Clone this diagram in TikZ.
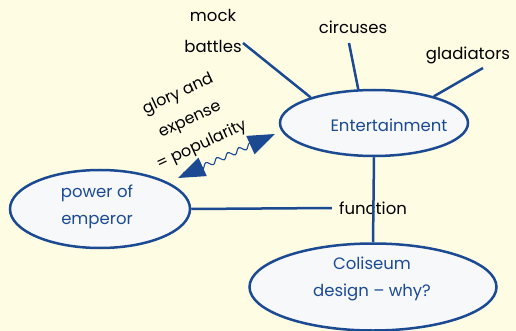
\documentclass[tikz,border=0pt]{standalone}
\usepackage{fontspec}
\setmainfont{Poppins}
\usetikzlibrary{shapes.geometric,decorations.pathmorphing,arrows.meta}
\definecolor{bgc}{HTML}{FEFDE4}
\definecolor{navy}{HTML}{1B4A92}
\definecolor{efill}{HTML}{F6F8FA}
\begin{document}
\begin{tikzpicture}[x=1pt,y=1pt,
  bub/.style={ellipse,draw=navy,line width=2.5pt,fill=efill,inner sep=0pt},
  btxt/.style={text=navy,align=center,inner sep=0pt,font=\fontsize{16.5}{27}\selectfont},
  lbl/.style={text=black,align=center,inner sep=1pt,font=\fontsize{16.5}{31}\selectfont},
  con/.style={draw=navy,line width=2.5pt}]
\fill[bgc] (0,0) rectangle (516,-331);
\useasboundingbox (0,0) rectangle (516,-331);
\node[lbl] (fun) at (373,-208) {function};
\node[bub,minimum width=188pt,minimum height=66pt] (ent) at (374,-123) {};
\node[bub,minimum width=180pt,minimum height=78pt] (emp) at (100,-209) {};
\node[bub,minimum width=247pt,minimum height=87pt] (col) at (373,-287) {};
\draw[con] (ent.south) -- (col.north);
\draw[con] (emp.east) -- ([xshift=-6pt]fun.west);
\node[btxt] (entt) at (389,-125) {Entertainment};
\node[btxt] (empt) at (97,-207) {power of\\emperor};
\node[btxt] (colt) at (372,-279) {Coliseum\\design – why?};
% labels
\node[lbl] (mb) at (213,-31) {mock\\battles};
\node[lbl] (cir) at (353,-27) {circuses};
\node[lbl] (gla) at (468,-55) {gladiators};
\coordinate (mbe) at (243,-43);
\coordinate (cire) at (349,-43);
\coordinate (glae) at (483,-68);
\draw[con] (mbe) -- (ent.158);
\draw[con] (cire) -- (ent.115);
\draw[con] (glae) -- (ent.24);
% rotated note
\node[lbl,rotate=25,font=\fontsize{16}{28}\selectfont] (note) at (190,-120) {glory and\\expense\\= popularity};
\coordinate (wa) at (178,-178);
\coordinate (wb) at (275,-134);
\draw[navy,line width=1.1pt,{Triangle[length=27pt,width=20pt]}-{Triangle[length=27pt,width=20pt]},
  decorate,decoration={snake,amplitude=2.5pt,segment length=12pt,pre length=4pt,post length=4pt}] (wa) -- (wb);
\end{tikzpicture}
\end{document}
